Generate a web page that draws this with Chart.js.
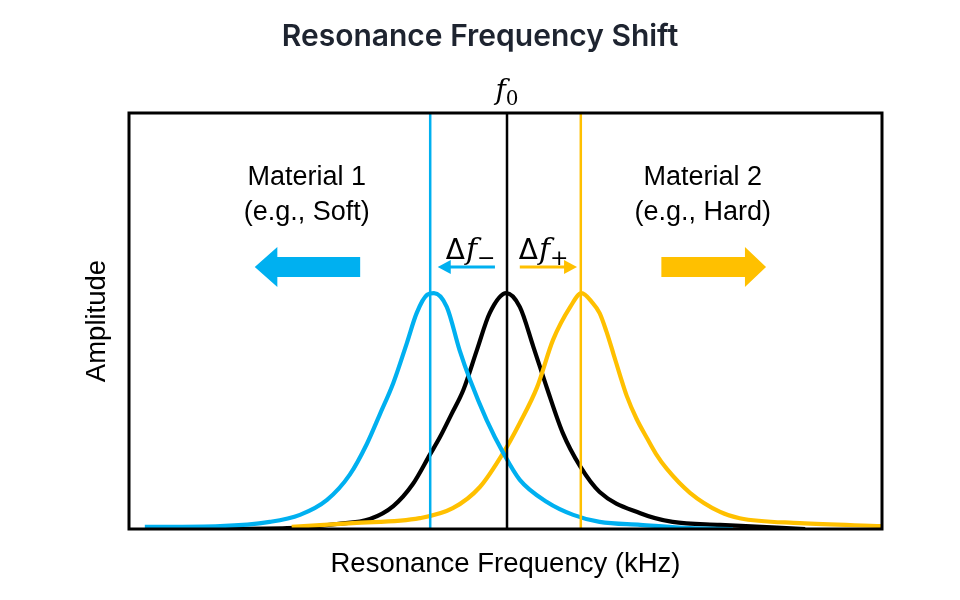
<!DOCTYPE html>
<html lang="en">
<head>
    <meta charset="UTF-8">
    <title>Resonance Frequency Shift</title>
    <script src="https://cdn.jsdelivr.net/npm/chart.js@4.4.1/dist/chart.umd.min.js"></script>
    <style>
        body { margin: 0; background: #fff; }
        #chart-container { width: 960px; height: 600px; }
    </style>
</head>
<body>
    <div id="chart-container">
        <canvas id="myChart" width="960" height="600"></canvas>
    </div>

    <script>
        // Curves (frequency 0-100, amplitude 0-100)
        const blueFreq  = [2.1, 12.1, 18.7, 22.7, 26.3, 29.3, 31.6, 33.3, 35.1, 36.9, 38.2, 39.6, 40.5, 42.2, 43.9, 45.3, 47.5, 49.7, 51.9, 55.5, 59.0, 62.5, 67.9, 74.5, 80.2];
        const blueAmp   = [0.5, 0.7, 1.7, 3.4, 7.0, 13.0, 20.5, 27.5, 35.1, 44.7, 51.9, 56.3, 56.7, 53.4, 43.0, 35.8, 26.2, 18.3, 11.8, 6.5, 3.4, 1.7, 1.0, 0.2, 0];
        const blackFreq = [11.7, 21.0, 27.6, 32.0, 35.1, 37.7, 40.0, 41.3, 42.8, 44.4, 46.2, 47.9, 50.1, 51.9, 53.7, 55.5, 57.6, 59.9, 62.5, 67.9, 72.2, 78.5, 89.8];
        const blackAmp  = [0, 0.2, 1.2, 2.4, 5.5, 10.8, 18.0, 22.1, 27.5, 33.4, 43.0, 51.9, 56.7, 53.4, 43.8, 33.9, 23.1, 15.1, 8.9, 3.8, 1.7, 1.0, 0];
        const yellowFreq = [21.6, 29.7, 38.6, 43.0, 46.6, 49.7, 51.9, 54.2, 56.3, 58.6, 60.1, 61.5, 62.5, 63.4, 64.3, 65.2, 66.1, 67.4, 68.8, 70.0, 71.4, 74.5, 78.5, 81.1, 89.1, 100];
        const yellowAmp  = [0.5, 1.4, 2.6, 5.0, 10.1, 18.3, 25.5, 34.1, 45.4, 53.4, 56.7, 54.5, 51.9, 47.5, 42.3, 37.0, 32.0, 26.5, 21.8, 18.0, 14.5, 8.7, 4.1, 2.6, 1.4, 0.7];
        // Resonance peaks: material 1, reference f0, material 2
        const peakFreqs = [40.0, 50.2, 60.0];
        const lineSpan = [0, 100];

        const BLUE = '#00B0F0';
        const YELLOW = '#FFC000';
        const BLACK = '#000000';

        function pts(xs, ys) {
            return xs.map((x, i) => ({ x: x, y: ys[i] }));
        }
        function vline(x) {
            return lineSpan.map(y => ({ x: x, y: y }));
        }

        const curveStyle = { showLine: true, pointRadius: 0, borderWidth: 4.2, cubicInterpolationMode: 'monotone', fill: false };

        // Title, frame, arrows and labels
        const decorPlugin = {
            id: 'decor',
            afterDraw(chart) {
                const ctx = chart.ctx;
                const a = chart.chartArea;
                const xs = chart.scales.x, ys = chart.scales.y;
                const px = v => xs.getPixelForValue(v);
                const py = v => ys.getPixelForValue(v);

                ctx.save();
                // title, centred on the page
                ctx.fillStyle = '#1e2430';
                ctx.font = '600 30px Inter, "Noto Sans", sans-serif';
                ctx.textAlign = 'center';
                ctx.textBaseline = 'middle';
                ctx.fillText('Resonance Frequency Shift', chart.width / 2, 37);

                // box
                ctx.strokeStyle = BLACK;
                ctx.lineWidth = 3;
                ctx.strokeRect(a.left, a.top, a.right - a.left, a.bottom - a.top);

                // axis titles
                ctx.fillStyle = '#000';
                ctx.font = '27.5px "Liberation Sans", Arial, sans-serif';
                ctx.fillText('Resonance Frequency (kHz)', (a.left + a.right) / 2, a.bottom + 35);
                ctx.save();
                ctx.translate(a.left - 32, (a.top + a.bottom) / 2);
                ctx.rotate(-Math.PI / 2);
                ctx.fillText('Amplitude', 0, 0);
                ctx.restore();

                // material labels
                ctx.font = '27px "Liberation Sans", Arial, sans-serif';
                ctx.fillText('Material 1', px(23.6), py(84.6));
                ctx.fillText('(e.g., Soft)', px(23.6), py(76.0));
                ctx.fillText('Material 2', px(76.2), py(84.6));
                ctx.fillText('(e.g., Hard)', px(76.2), py(76.0));

                // big arrows
                function bigArrow(tail, base, tip, color) {
                    const y = py(63.0);
                    const x0 = px(tail), x1 = px(base), x2 = px(tip);
                    ctx.fillStyle = color;
                    ctx.beginPath();
                    ctx.moveTo(x0, y - 10);
                    ctx.lineTo(x1, y - 10);
                    ctx.lineTo(x1, y - 20);
                    ctx.lineTo(x2, y);
                    ctx.lineTo(x1, y + 20);
                    ctx.lineTo(x1, y + 10);
                    ctx.lineTo(x0, y + 10);
                    ctx.closePath();
                    ctx.fill();
                }
                bigArrow(30.7, 19.7, 16.7, BLUE);
                bigArrow(70.7, 81.8, 84.6, YELLOW);

                // small shift arrows
                function smallArrow(from, to, color) {
                    const y = py(63.0);
                    const x0 = px(from), x1 = px(to);
                    const dir = Math.sign(x1 - x0);
                    ctx.strokeStyle = color;
                    ctx.fillStyle = color;
                    ctx.lineWidth = 3;
                    ctx.beginPath();
                    ctx.moveTo(x0, y);
                    ctx.lineTo(x1 - dir * 8, y);
                    ctx.stroke();
                    ctx.beginPath();
                    ctx.moveTo(x1, y);
                    ctx.lineTo(x1 - dir * 13, y - 7);
                    ctx.lineTo(x1 - dir * 13, y + 7);
                    ctx.closePath();
                    ctx.fill();
                }
                smallArrow(48.6, 41.0, BLUE);
                smallArrow(51.9, 59.5, YELLOW);

                // math labels
                const fDelta = '28px "DejaVu Sans", sans-serif';
                const fItal = 'italic 30px "DejaVu Serif", serif';
                const fSub = '22px "DejaVu Sans", sans-serif';
                function mathLabel(cx, cy, sub) {
                    ctx.fillStyle = '#000';
                    ctx.textAlign = 'left';
                    ctx.textBaseline = 'alphabetic';
                    ctx.font = fDelta; const w1 = ctx.measureText('\u0394').width;
                    ctx.font = fItal; const w2 = ctx.measureText('f').width;
                    ctx.font = fSub; const w3 = ctx.measureText(sub).width;
                    let x = cx - (w1 + w2 + w3) / 2;
                    ctx.font = fDelta; ctx.fillText('\u0394', x, cy); x += w1 + 1;
                    ctx.font = fItal; ctx.fillText('f', x, cy); x += w2;
                    ctx.font = fSub; ctx.fillText(sub, x, cy + 6);
                }
                mathLabel(px(45.3), py(65.0), '\u2212');
                mathLabel(px(55.0), py(65.0), '+');

                // f0 above the box
                ctx.font = 'italic 28px "DejaVu Serif", serif';
                const wf = ctx.measureText('f').width;
                ctx.font = '20px "DejaVu Serif", serif';
                const w0 = ctx.measureText('0').width;
                const x = px(peakFreqs[1]) - (wf + w0) / 2;
                ctx.fillStyle = '#000';
                ctx.textAlign = 'left';
                ctx.textBaseline = 'alphabetic';
                ctx.font = 'italic 28px "DejaVu Serif", serif';
                ctx.fillText('f', x, a.top - 14);
                ctx.font = '20px "DejaVu Serif", serif';
                ctx.fillText('0', x + wf, a.top - 8);

                ctx.restore();
            }
        };

        const ctx = document.getElementById('myChart').getContext('2d');
        const myChart = new Chart(ctx, {
            type: 'scatter',
            data: {
                datasets: [
                    { label: 'Material 1 line', data: vline(peakFreqs[0]), showLine: true, pointRadius: 0, borderColor: BLUE, borderWidth: 2.5 },
                    { label: 'f0 line', data: vline(peakFreqs[1]), showLine: true, pointRadius: 0, borderColor: BLACK, borderWidth: 2.5 },
                    { label: 'Material 2 line', data: vline(peakFreqs[2]), showLine: true, pointRadius: 0, borderColor: YELLOW, borderWidth: 2.5 },
                    Object.assign({ label: 'Material 1', data: pts(blueFreq, blueAmp), borderColor: BLUE }, curveStyle),
                    Object.assign({ label: 'Material 2', data: pts(yellowFreq, yellowAmp), borderColor: YELLOW }, curveStyle),
                    Object.assign({ label: 'Reference', data: pts(blackFreq, blackAmp), borderColor: BLACK }, curveStyle)
                ]
            },
            options: {
                responsive: false,
                animation: false,
                layout: { padding: { left: 129, right: 78, bottom: 71, top: 113 } },
                scales: {
                    x: { type: 'linear', min: 0, max: 100, display: false },
                    y: { type: 'linear', min: 0, max: 100, display: false }
                },
                plugins: {
                    legend: { display: false },
                    tooltip: { enabled: false },
                    title: { display: false }
                }
            },
            plugins: [decorPlugin]
        });
    </script>
</body>
</html>
